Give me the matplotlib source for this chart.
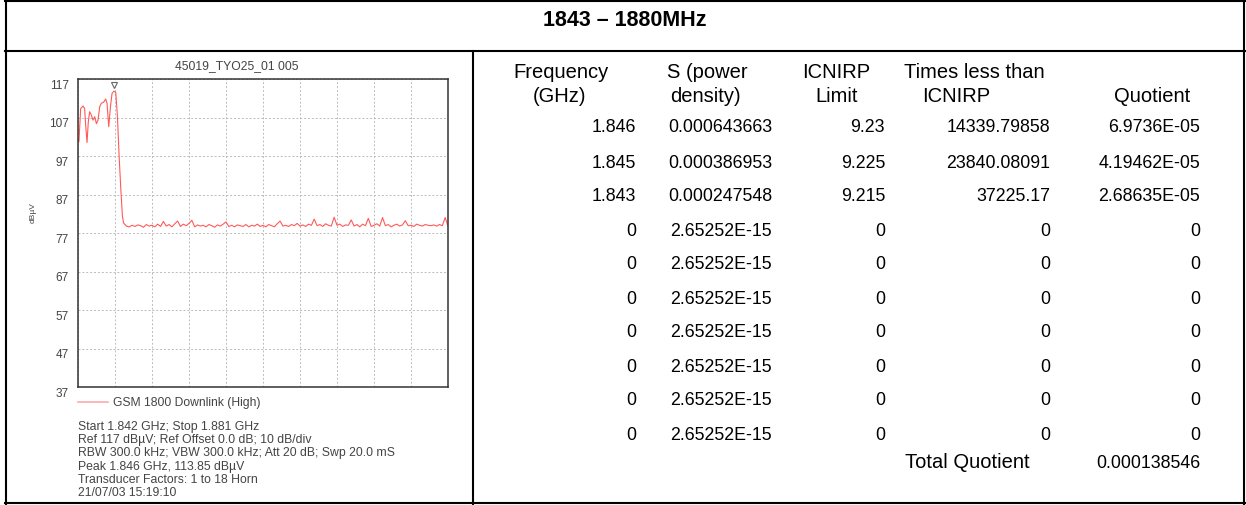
import matplotlib
matplotlib.use("Agg")
import matplotlib.pyplot as plt
import numpy as np
from matplotlib.lines import Line2D
from matplotlib.transforms import ScaledTranslation

plt.rcParams['font.family'] = ['Liberation Sans', 'DejaVu Sans']

W, H = 1246, 506

###############################################################################
# DATA
###############################################################################
title = "1843 \u2013 1880MHz"

# spectrum trace: signal part (MHz, dBuV)
sig_freq = [1842.00, 1842.10, 1842.28, 1842.53, 1842.70, 1842.81, 1842.95,
            1843.09, 1843.23, 1843.41, 1843.58, 1843.76, 1843.94, 1844.11,
            1844.29, 1844.46, 1844.71, 1844.92, 1845.06, 1845.24, 1845.42,
            1845.59, 1845.80, 1845.98, 1846.15, 1846.33, 1846.51, 1846.68]
sig_level = [101.5, 100.7, 109.3, 110.0, 109.3, 105.0, 100.5,
             106.0, 108.5, 107.6, 106.3, 107.2, 105.4, 106.3,
             109.8, 110.7, 111.0, 111.8, 110.7, 104.6, 109.8,
             113.3, 113.85, 113.5, 107.6, 97.2, 88.5, 81.5]

# noise floor, 0.3 MHz sweep points from 1846.8 to 1881.0 MHz
floor_start, floor_stop = 1846.8, 1881.0
floor_level = [
    79.6, 78.8, 78.6, 79.0, 78.7, 79.1, 78.9, 78.5, 79.2, 78.8,
    79.0, 78.6, 79.3, 78.7, 80.0, 78.8, 79.2, 78.6, 79.4, 80.1,
    78.7, 79.3, 78.9, 79.5, 80.3, 78.6, 79.1, 78.8, 79.0, 78.6,
    79.2, 78.9, 78.5, 79.1, 78.8, 79.3, 79.9, 78.7, 79.0, 78.6,
    79.1, 78.9, 78.7, 79.2, 78.6, 79.0, 78.8, 79.3, 78.7, 79.0,
    78.6, 79.2, 78.9, 78.6, 79.4, 80.1, 78.8, 79.0, 78.7, 79.2,
    78.9, 79.5, 78.8, 79.1, 78.7, 79.3, 79.0, 80.6, 78.9, 79.2,
    78.7, 79.4, 79.0, 78.8, 81.1, 79.0, 79.3, 78.7, 79.1, 79.0,
    80.4, 78.8, 79.2, 78.6, 79.3, 78.9, 80.8, 78.7, 79.0, 79.4,
    78.8, 81.0, 78.9, 79.2, 78.6, 79.0, 79.3, 78.8, 79.1, 80.2,
    78.9, 79.0, 78.7, 79.3, 79.0, 78.8, 79.2, 79.0, 78.9, 79.1,
    78.8, 79.2, 78.9, 81.0, 78.8]

peak_freq, peak_level = 1845.80, 113.85
f_start, f_stop = 1842.0, 1881.0
ref_level, bottom_level = 117, 37

chart_title = "45019_TYO25_01 005"
legend_label = "GSM 1800 Downlink (High)"
info_lines = ["Start 1.842 GHz; Stop 1.881 GHz",
              "Ref 117 dB\u00b5V; Ref Offset 0.0 dB; 10 dB/div",
              "RBW 300.0 kHz; VBW 300.0 kHz; Att 20 dB; Swp 20.0 mS",
              "Peak 1.846 GHz, 113.85 dB\u00b5V",
              "Transducer Factors: 1 to 18 Horn",
              "21/07/03 15:19:10"]

# table on the right
headers = [["Frequency", "(GHz)"], ["S (power", "density)"],
           ["ICNIRP", "Limit"], ["Times less than", "ICNIRP"], ["", "Quotient"]]
freq_col = ["1.846", "1.845", "1.843", "0", "0", "0", "0", "0", "0", "0"]
s_col = ["0.000643663", "0.000386953", "0.000247548"] + ["2.65252E-15"] * 7
limit_col = ["9.23", "9.225", "9.215"] + ["0"] * 7
times_col = ["14339.79858", "23840.08091", "37225.17"] + ["0"] * 7
quot_col = ["6.9736E-05", "4.19462E-05", "2.68635E-05"] + ["0"] * 7
total_label = "Total Quotient"
total_value = "0.000138546"


def fx(x):
    return x / W


def fy(y):
    return 1 - y / H


def hline(x0, x1, y, lw=1.5, color="black"):
    fig.add_artist(Line2D([fx(x0), fx(x1)], [fy(y), fy(y)],
                          transform=fig.transFigure, color=color, lw=lw))


def vline(x, y0, y1, lw=1.5, color="black"):
    fig.add_artist(Line2D([fx(x), fx(x)], [fy(y0), fy(y1)],
                          transform=fig.transFigure, color=color, lw=lw))


fig = plt.figure(figsize=(W / 100, H / 100), dpi=100)
fig.patch.set_facecolor("white")

# table frame
hline(5, 1245, 2)
hline(5, 1245, 504)
vline(6, 1, 505)
vline(1244, 1, 505)
hline(5, 1245, 52)
vline(473, 52, 505)

fig.text(fx(625), fy(21), title, ha="center", va="center",
         fontsize=15.5, fontweight="bold")

# spectrum screenshot
ax = fig.add_axes([fx(78), fy(388), (448 - 78) / W, (388 - 80) / H])
floor_freq = np.linspace(floor_start, floor_stop, len(floor_level))
ax.plot(sig_freq + list(floor_freq), sig_level + floor_level,
        color="#ff5a5a", lw=0.8)
ax.plot([peak_freq], [peak_level + 1.7], marker="v", mfc="white",
        mec="#666666", ms=4.5, mew=0.8, ls="none")
ax.set_xlim(f_start, f_stop)
ax.set_ylim(bottom_level, ref_level)
ax.set_xticks(np.linspace(f_start, f_stop, 11))
ax.set_yticks(range(bottom_level, ref_level + 1, 10))
ax.tick_params(length=0, labelbottom=False, labelsize=8.5,
               labelcolor="#444444", pad=6.5)
for lab in ax.get_yticklabels():
    lab.set_transform(lab.get_transform() +
                      ScaledTranslation(0, -3 / 72, fig.dpi_scale_trans))
ax.grid(True, color="#bbbbbb", linestyle=(0, (2, 2)), lw=0.7)
for sp in ax.spines.values():
    sp.set_color("#333333")
    sp.set_linewidth(1.1)

fig.text(fx(33), fy(213), "dB\u00b5V", rotation=90, ha="center",
         va="center", fontsize=6, color="#444444")
fig.text(fx(237), fy(66), chart_title, ha="center", va="center",
         fontsize=8.7, color="#444444")

fig.add_artist(Line2D([fx(78), fx(108)], [fy(403), fy(403)],
                      transform=fig.transFigure, color="#ffaaaa", lw=1.2))
fig.text(fx(113), fy(403), legend_label, ha="left", va="center",
         fontsize=8.7, color="#444444")
for i, line in enumerate(info_lines):
    fig.text(fx(78), fy(427 + i * 13.2), line, ha="left", va="center",
             fontsize=8.8, color="#444444")

# numbers table
col_right = [636, 772, 885, 1050, 1200]
head_center = [[561, 560], [707, 705], [836, 837], [974, 956], [1152, 1152]]
head_y = [73, 97]
row_y = [128, 163, 197, 231, 265, 299, 333, 367, 401, 435]
fs_num = 12.8
fs_txt = 14.5

for c, hd in enumerate(headers):
    for k in range(2):
        if hd[k]:
            fig.text(fx(head_center[c][k]), fy(head_y[k]), hd[k],
                     ha="center", va="center", fontsize=fs_txt)

for c, col in enumerate([freq_col, s_col, limit_col, times_col, quot_col]):
    for r, val in enumerate(col):
        fig.text(fx(col_right[c]), fy(row_y[r]), val, ha="right",
                 va="center", fontsize=fs_num)

fig.text(fx(1030), fy(463), total_label, ha="right", va="center",
         fontsize=fs_txt)
fig.text(fx(1200), fy(463), total_value, ha="right", va="center",
         fontsize=fs_num)

fig.savefig("out.png", dpi=100, facecolor="white")
